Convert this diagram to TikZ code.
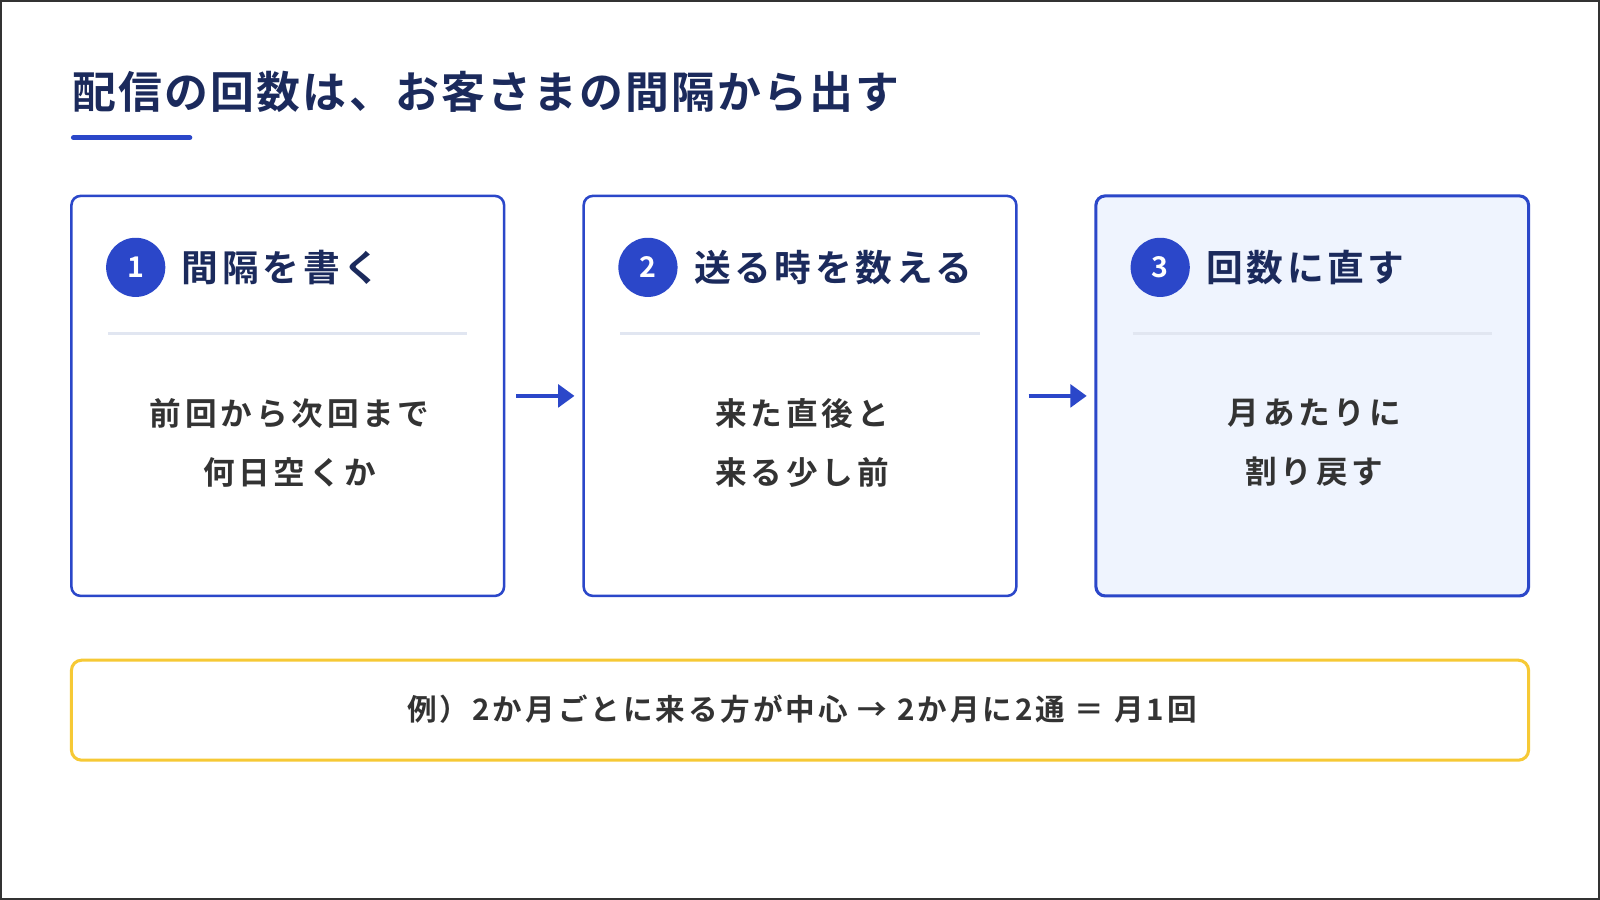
\documentclass[tikz,border=0pt]{standalone}
\usepackage{fontspec}
\setmainfont{Noto Sans CJK JP}
\newfontfamily\jpt{Noto Sans CJK JP Bold}[LetterSpace=5]
\newfontfamily\jph{Noto Sans CJK JP Bold}[LetterSpace=10]
\newfontfamily\jpbody{Noto Sans CJK JP Bold}[LetterSpace=12]
\newfontfamily\jpex{Noto Sans CJK JP Bold}[LetterSpace=10]
\newfontfamily\jpn{Noto Sans CJK JP Bold}
\usetikzlibrary{arrows.meta}
\definecolor{navy}{HTML}{1B2A5C}
\definecolor{blu}{HTML}{2B47C9}
\definecolor{sep}{HTML}{E1E6F1}
\definecolor{pale}{HTML}{EFF4FE}
\definecolor{ylw}{HTML}{F6C935}
\definecolor{txt}{HTML}{333333}
\tikzset{
 card/.style={draw=blu,line width=2.5pt,rounded corners=9pt},
 num/.style={circle,fill=blu,minimum size=58pt,inner sep=0,text=white,font=\jpn\fontsize{28}{30}\selectfont},
 head/.style={anchor=west,text=navy,font=\jph\fontsize{36}{40}\selectfont,inner sep=0},
 body/.style={align=center,text=txt,font=\jpbody\fontsize{31}{58}\selectfont,inner sep=0},
 sepl/.style={draw=sep,line width=3pt},
 arr/.style={draw=blu,line width=4pt,-{Triangle[length=16pt,width=22pt]}}
}
\begin{document}
\begin{tikzpicture}[x=1pt,y=-1pt]
\draw[fill=white,draw=black!80,line width=2pt] (1,1) rectangle (1567,881);
\useasboundingbox (0,0) rectangle (1568,882);
\node[anchor=west,inner sep=0,text=navy,font=\jpt\fontsize{43}{46}\selectfont] (title) at (71,90) {配信の回数は、お客さまの間隔から出す};
\draw[blu,line width=5pt,line cap=round] (72,135) -- (186,135);
% cards
\draw[card] (70,192) rectangle (494,584);
\draw[card] (572,192) rectangle (996,584);
\draw[card,fill=pale,line width=3pt] (1074,192) rectangle (1498,584);
\foreach \x/\n/\h/\b in {0/1/間隔を書く/{前回から次回まで\\何日空くか},502/2/送る時を数える/{来た直後と\\来る少し前},1004/3/回数に直す/{月あたりに\\割り戻す}}{
 \node[num] (n\n) at (133+\x,262) {\n};
 \node[head] (h\n) at (178+\x,262) {\h};
 \draw[sepl] (106+\x,327) -- (458+\x,327);
 \node[body] (b\n) at (284+\x,434) {\b};
}
\coordinate (a1s) at (506,388); \coordinate (a1e) at (563,388);
\coordinate (a2s) at (1008,388); \coordinate (a2e) at (1065,388);
\draw[arr] (a1s) -- (a1e);
\draw[arr] (a2s) -- (a2e);
\draw[draw=ylw,line width=3pt,rounded corners=10pt] (70,647) rectangle (1498,745);
\node[text=txt,font=\jpex\fontsize{29}{32}\selectfont,inner sep=0] (ex) at (786,695) {例）2か月ごとに来る方が中心 → 2か月に2通 ＝ 月1回};
\end{tikzpicture}
\end{document}
